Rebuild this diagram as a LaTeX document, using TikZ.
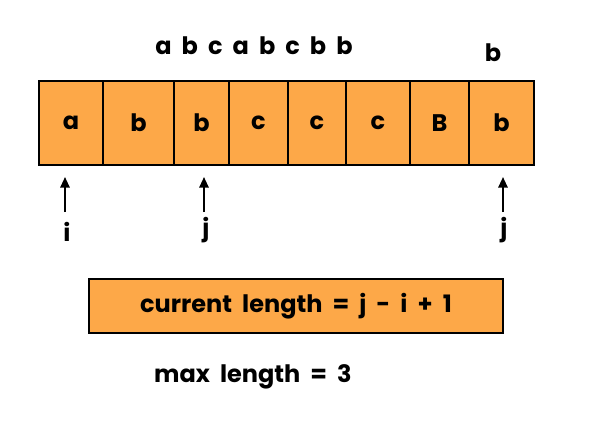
\documentclass[tikz,border=0pt]{standalone}
\usepackage{fontspec}
\setmainfont{Poppins}
\usetikzlibrary{arrows.meta}
\definecolor{cellorange}{RGB}{253,168,72}
\newcommand{\diagfont}{\fontsize{18}{21}\selectfont\bfseries\spaceskip=0.42em\relax}
\begin{document}
\begin{tikzpicture}[x=0.75pt,y=-0.75pt,
  cell/.style={draw=black,line width=1.5pt,fill=cellorange,minimum height=63pt,inner sep=0pt,font=\diagfont},
  lbl/.style={font=\diagfont,inner sep=0pt},
  arr/.style={line width=1.5pt,-{Triangle[width=7pt,length=8pt]}}]
\useasboundingbox (0,0) rectangle (594,426);
\node[lbl] (top) at (254,46) {a b c a b c b b};
\node[lbl] (topb) at (493,53) {b};
\node[cell,minimum width=48pt]    (c1) at (71,123)    {a};
\node[cell,minimum width=53.25pt] (c2) at (138.5,123) {b};
\node[cell,minimum width=41.25pt] (c3) at (201.5,123) {b};
\node[cell,minimum width=44.25pt] (c4) at (258.5,123) {c};
\node[cell,minimum width=43.5pt]  (c5) at (317,123)   {c};
\node[cell,minimum width=48pt]    (c6) at (378,123)   {c};
\node[cell,minimum width=44.25pt] (c7) at (439.5,123) {B};
\node[cell,minimum width=48.75pt] (c8) at (501.5,123) {b};
\coordinate (ib) at (65,212); \coordinate (it) at (65,177);
\coordinate (jb) at (204,212); \coordinate (jt) at (204,177);
\coordinate (kb) at (503,212); \coordinate (kt) at (503,177);
\draw[arr] (ib) -- (it);
\draw[arr] (jb) -- (jt);
\draw[arr] (kb) -- (kt);
\node[lbl] (li) at (67,232) {i};
\node[lbl] (lj) at (206,230) {j};
\node[lbl] (lk) at (504,230) {j};
\node[cell,minimum width=310.5pt,minimum height=40.5pt] (cur) at (296,306) {current length = j - i + 1};
\node[lbl] (max) at (253,377) {max length = 3};
\end{tikzpicture}
\end{document}
